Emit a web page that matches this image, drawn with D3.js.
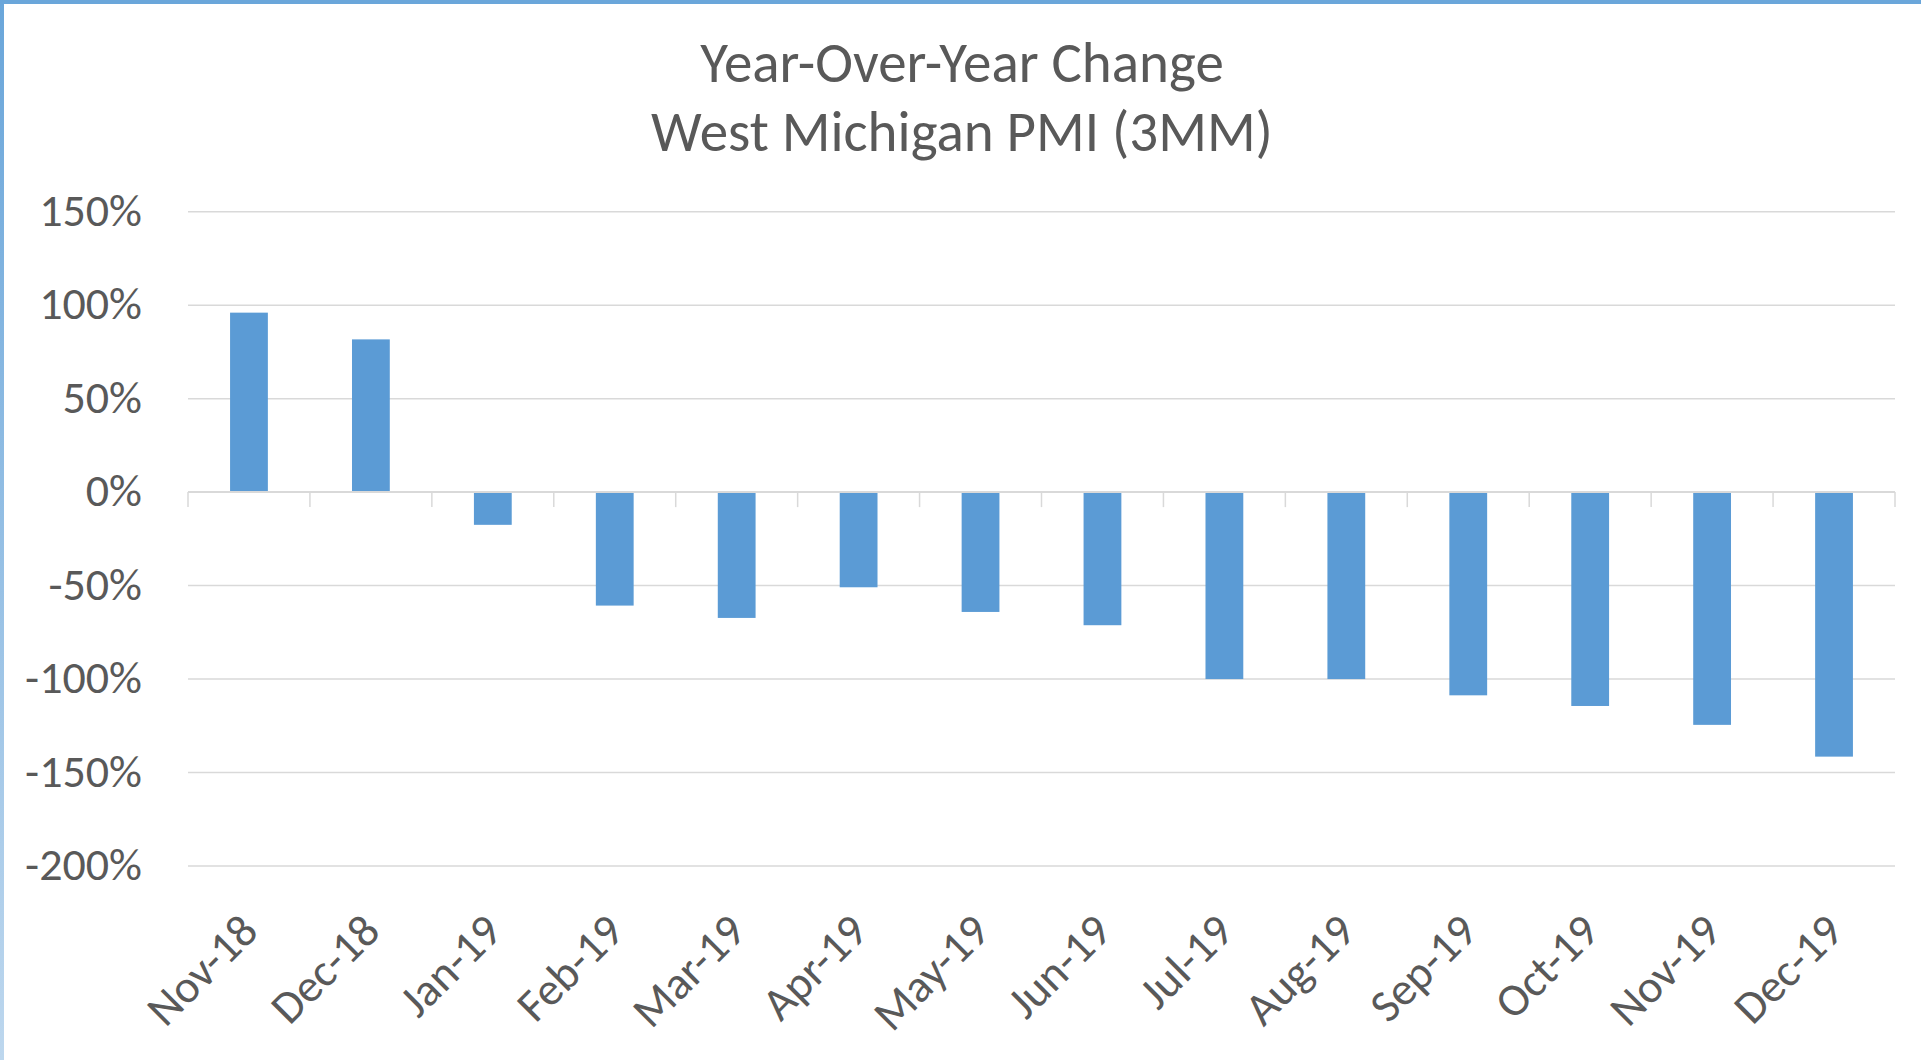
<!DOCTYPE html>
<html>
<head>
<meta charset="utf-8">
<script src="https://cdn.jsdelivr.net/npm/d3@7"></script>
<style>
    body { margin: 0; background: #fff; }
    svg { display: block; }
    text { font-family: Carlito, Lato, sans-serif; fill: #595959; }
</style>
</head>
<body>
<script>
(function(){

//chart data
var months = ["Nov-18", "Dec-18", "Jan-19", "Feb-19", "Mar-19", "Apr-19", "May-19",
              "Jun-19", "Jul-19", "Aug-19", "Sep-19", "Oct-19", "Nov-19", "Dec-19"];
var yoyChange = [0.960, 0.817, -0.175, -0.607, -0.673, -0.509, -0.641,
                 -0.712, -1.000, -1.000, -1.087, -1.144, -1.245, -1.415];
var yTicks = [1.5, 1.0, 0.5, 0, -0.5, -1.0, -1.5, -2.0];
var titleLines = ["Year-Over-Year Change", "West Michigan PMI (3MM)"];

//frame dimensions
var width = 1921,
    height = 1060,
    plotLeft = 188,
    plotRight = 1895,
    plotTop = 211.7,
    plotBottom = 866;

window.onload = setChart();

//percent labels with a plain hyphen like Excel
function pct(d){
    return Math.round(d * 100) + "%";
};

function setChart(){

    var svg = d3.select("body")
        .append("svg")
        .attr("width", width)
        .attr("height", height);

    //blue frame on top and left edges
    var grad = svg.append("defs").append("linearGradient")
        .attr("id", "edgeGrad")
        .attr("x1", 0).attr("y1", 0)
        .attr("x2", 0).attr("y2", 1);
    grad.append("stop").attr("offset", "0%").attr("stop-color", "#6aa6da");
    grad.append("stop").attr("offset", "100%").attr("stop-color", "#bdd7ee");

    svg.append("rect")
        .attr("x", 0).attr("y", 0)
        .attr("width", 4).attr("height", height)
        .style("fill", "url(#edgeGrad)");
    svg.append("rect")
        .attr("x", 0).attr("y", 0)
        .attr("width", width).attr("height", 4)
        .style("fill", "#6aa6da");

    //scales
    var x = d3.scaleBand()
        .domain(months)
        .range([plotLeft, plotRight])
        .paddingInner(0.69)
        .paddingOuter(0.345);

    var xOuter = d3.scaleBand()
        .domain(months)
        .range([plotLeft, plotRight]);

    var y = d3.scaleLinear()
        .domain([-2, 1.5])
        .range([plotBottom, plotTop]);

    //horizontal gridlines
    svg.selectAll(".grid")
        .data(yTicks.filter(function(d){ return d !== 0; }))
        .enter()
        .append("line")
        .attr("class", "grid")
        .attr("x1", plotLeft)
        .attr("x2", plotRight)
        .attr("y1", function(d){ return y(d); })
        .attr("y2", function(d){ return y(d); })
        .style("stroke", "#d9d9d9")
        .style("stroke-width", 1.5);

    //y axis labels
    svg.selectAll(".yLabel")
        .data(yTicks)
        .enter()
        .append("text")
        .attr("class", "yLabel")
        .attr("x", 142)
        .attr("y", function(d){ return y(d); })
        .attr("dy", "0.31em")
        .attr("text-anchor", "end")
        .style("font-size", "46px")
        .text(pct);

    //bars
    svg.selectAll(".bar")
        .data(yoyChange)
        .enter()
        .append("rect")
        .attr("class", "bar")
        .attr("x", function(d, i){ return x(months[i]); })
        .attr("width", x.bandwidth())
        .attr("y", function(d){ return y(Math.max(0, d)); })
        .attr("height", function(d){ return Math.abs(y(d) - y(0)); })
        .style("fill", "#5b9bd5");

    //category axis on the zero line, ticks between categories
    var xAxis = d3.axisBottom(xOuter)
        .tickSize(0)
        .tickFormat("");
    var axisG = svg.append("g")
        .attr("transform", "translate(0," + y(0) + ")")
        .call(xAxis);
    axisG.select(".domain")
        .attr("d", "M" + plotLeft + ",0H" + plotRight)
        .style("stroke", "#d9d9d9")
        .style("stroke-width", 2);

    var bounds = months.map(function(m){ return xOuter(m); }).concat([plotRight]);
    axisG.selectAll(".sep")
        .data(bounds)
        .enter()
        .append("line")
        .attr("class", "sep")
        .attr("x1", function(d){ return d; })
        .attr("x2", function(d){ return d; })
        .attr("y1", 0)
        .attr("y2", 15)
        .style("stroke", "#d9d9d9")
        .style("stroke-width", 1.5);

    //rotated month labels
    svg.selectAll(".xLabel")
        .data(months)
        .enter()
        .append("text")
        .attr("class", "xLabel")
        .attr("text-anchor", "end")
        .attr("dy", "0.35em")
        .attr("transform", function(d){
            return "translate(" + (xOuter(d) + xOuter.bandwidth() / 2) + ",922) rotate(-45)";
        })
        .style("font-size", "46px")
        .text(function(d){ return d; });

    //chart title
    svg.selectAll(".chartTitle")
        .data(titleLines)
        .enter()
        .append("text")
        .attr("class", "chartTitle")
        .attr("x", 962)
        .attr("y", function(d, i){ return 82 + i * 69; })
        .attr("text-anchor", "middle")
        .style("font-size", "57px")
        .text(function(d){ return d; });
};

})();
</script>
</body>
</html>
